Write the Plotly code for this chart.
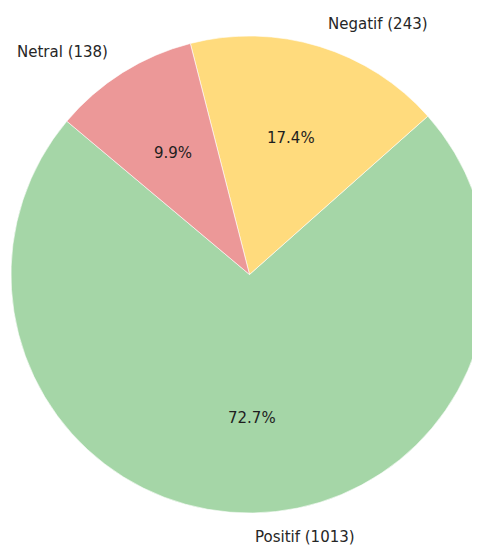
import numpy as np
import plotly.graph_objects as go

labels = ["Positif", "Negatif", "Netral"]
counts = [1013, 243, 138]
colors = ["#a5d6a7", "#ffdb7d", "#ec9898"]

W, H = 480, 548
L, R, T, B = 3, 0, 28, 43
start_angle = 140  # degrees, counterclockwise from 3 o'clock (matplotlib style)

vals = np.array(counts, dtype=float)
frac = vals / vals.sum()
cum = np.concatenate([[0], np.cumsum(frac)])

# plotly (counterclockwise): first slice ends at `rotation` (clockwise from 12 o'clock)
rot = 90 - (start_angle + 360 * frac[0])
rot = (rot + 180) % 360 - 180

fig = go.Figure(go.Pie(
    labels=labels, values=counts, sort=False,
    direction="counterclockwise", rotation=rot,
    marker=dict(colors=colors, line=dict(color="white", width=0.6)),
    textinfo="none", hoverinfo="label+value+percent",
    showlegend=False, domain=dict(x=[0, 1], y=[0, 1]),
))

font_lab = dict(family="DejaVu Sans", size=15, color="#262626")
font_pct = dict(family="DejaVu Sans", size=15, color="#1e1e1e")
for i, lab in enumerate(labels):
    mid = np.deg2rad(start_angle + 360 * (cum[i] + cum[i + 1]) / 2)
    cx, cy = np.cos(mid), np.sin(mid)
    fig.add_annotation(
        x=0.5 + 0.5 * 1.1 * cx, y=0.5 + 0.5 * 1.1 * cy, xref="paper", yref="paper",
        text=f"{lab} ({counts[i]})", showarrow=False,
        xanchor="left" if cx > 0 else "right", yanchor="middle", font=font_lab)
    fig.add_annotation(
        x=0.5 + 0.5 * 0.6 * cx, y=0.5 + 0.5 * 0.6 * cy, xref="paper", yref="paper",
        text=f"{frac[i] * 100:.1f}%", showarrow=False,
        xanchor="center", yanchor="middle", font=font_pct)

fig.update_layout(
    width=W, height=H, margin=dict(l=L, r=R, t=T, b=B),
    paper_bgcolor="white", plot_bgcolor="white",
)
fig.write_html("out.html")
